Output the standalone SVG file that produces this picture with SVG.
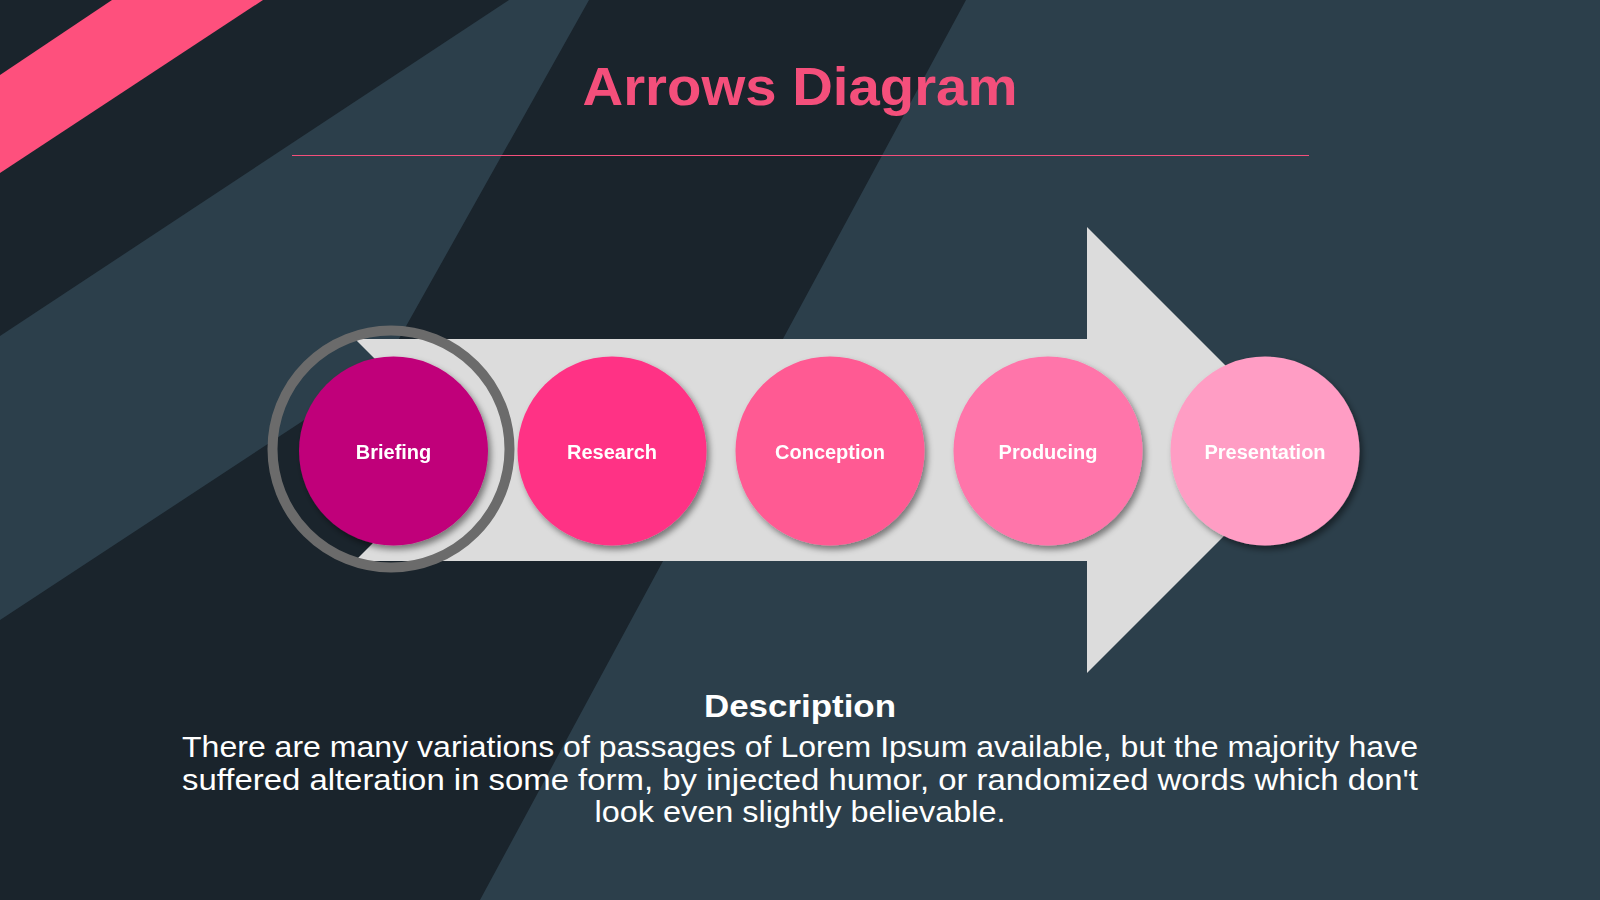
<svg xmlns="http://www.w3.org/2000/svg" width="1600" height="900" viewBox="0 0 1600 900">
  <defs>
    <filter id="shadow" x="-20%" y="-20%" width="140%" height="140%">
      <feDropShadow dx="3" dy="4" stdDeviation="3" flood-color="#000" flood-opacity="0.45"/>
    </filter>
    <style>
      .dark { fill: #1a242c; }
      .light { fill: #2c3f4b; }
      .node-label { font-family: "Liberation Sans", Arial, sans-serif; font-weight: bold; font-size: 20px; fill: #ffffff; text-anchor: middle; }
      .title { font-family: "Liberation Sans", Arial, sans-serif; font-weight: bold; font-size: 53px; fill: #f44f7b; text-anchor: middle; }
      .desc-title { font-family: "Liberation Sans", Arial, sans-serif; font-weight: bold; font-size: 32px; fill: #ffffff; text-anchor: middle; }
      .desc { font-family: "Liberation Sans", Arial, sans-serif; font-size: 29px; fill: #ffffff; text-anchor: middle; }
      .node { filter: url(#shadow); }
    </style>
  </defs>

  <!-- background -->
  <g id="background">
    <rect x="0" y="0" width="1600" height="900" class="light"/>
    <polygon class="dark" points="0,0 509,0 0,336"/>
    <polygon class="dark" points="589,0 966,0 480,900 0,900 0,620 382,369"/>
    <polygon fill="#fe507d" points="112,0 263,0 0,173 0,75"/>
  </g>

  <!-- title -->
  <g id="title">
    <text class="title" x="800" y="105" textLength="435" lengthAdjust="spacingAndGlyphs">Arrows Diagram</text>
    <line x1="292" y1="155.5" x2="1309" y2="155.5" stroke="#f44f7b" stroke-width="1"/>
  </g>

  <!-- big arrow -->
  <g id="connectors">
    <polygon id="arrow" fill="#dcdcdc" points="355,339 1087,339 1087,227 1310,450 1087,673 1087,561 355,561 466,450"/>
  </g>

  <!-- highlight ring -->
  <g id="ring">
    <circle cx="391" cy="449" r="118.5" fill="none" stroke="#6b6b6b" stroke-width="10"/>
  </g>

  <g id="node-briefing" class="node">
    <circle cx="393.5" cy="451" r="94.5" fill="#c0007a"/>
    <text class="node-label" x="393.5" y="459">Briefing</text>
  </g>
  <g id="node-research" class="node">
    <circle cx="612" cy="451" r="94.5" fill="#ff3385"/>
    <text class="node-label" x="612" y="459">Research</text>
  </g>
  <g id="node-conception" class="node">
    <circle cx="830" cy="451" r="94.5" fill="#ff5a93"/>
    <text class="node-label" x="830" y="459">Conception</text>
  </g>
  <g id="node-producing" class="node">
    <circle cx="1048" cy="451" r="94.5" fill="#ff74aa"/>
    <text class="node-label" x="1048" y="459">Producing</text>
  </g>
  <g id="node-presentation" class="node">
    <circle cx="1265" cy="451" r="94.5" fill="#ff9dc4"/>
    <text class="node-label" x="1265" y="459">Presentation</text>
  </g>

  <!-- description -->
  <g id="description">
    <text class="desc-title" x="800" y="717" textLength="192" lengthAdjust="spacingAndGlyphs">Description</text>
    <text class="desc" x="800" y="757" textLength="1236" lengthAdjust="spacingAndGlyphs">There are many variations of passages of Lorem Ipsum available, but the majority have</text>
    <text class="desc" x="800" y="790" textLength="1236" lengthAdjust="spacingAndGlyphs">suffered alteration in some form, by injected humor, or randomized words which don't</text>
    <text class="desc" x="800" y="822" textLength="411" lengthAdjust="spacingAndGlyphs">look even slightly believable.</text>
  </g>
</svg>
